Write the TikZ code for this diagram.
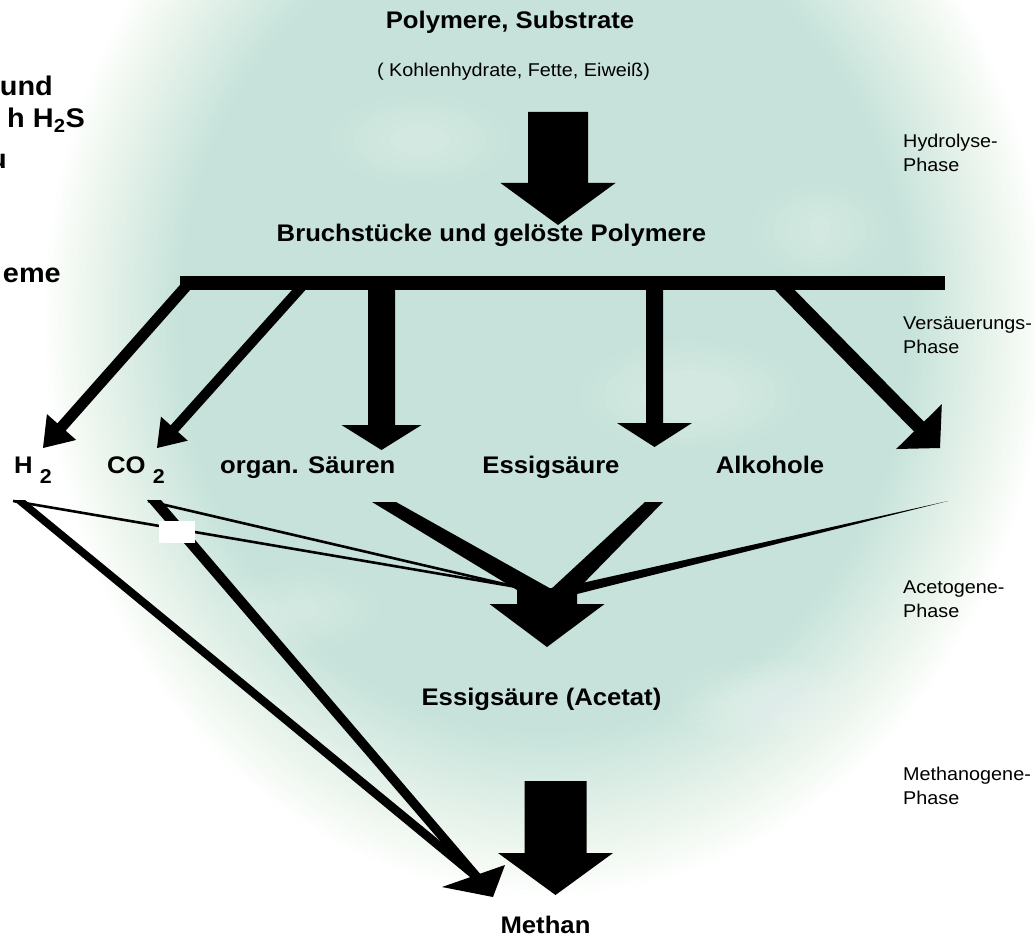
\documentclass[tikz,border=0pt]{standalone}
\usepackage{fontspec}
\setmainfont{Liberation Sans}[FakeStretch=1.07]
\usetikzlibrary{calc}
\definecolor{bgteal}{RGB}{198,226,218}
\newcommand\lowtwo{\raisebox{-10pt}{\fontsize{20}{20}\selectfont 2}}
\newcommand\blockarrow[5]{%
  \coordinate (tmpb) at ($(#2)!#5!(#1)$);
  \fill[arrowfill] ($(#1)!#3!90:(#2)$) -- ($(tmpb)!#3!-90:(#1)$) -- ($(tmpb)!#4!-90:(#1)$) -- (#2) -- ($(tmpb)!#4!90:(#1)$) -- ($(tmpb)!#3!90:(#1)$) -- ($(#1)!#3!-90:(#2)$) -- cycle;
}
\begin{document}
\begin{tikzpicture}[x=1pt,y=-1pt,
  lbl/.style={font=\bfseries\fontsize{24}{28}\selectfont, inner sep=0pt},
  sub/.style={font=\fontsize{18.5}{24}\selectfont, inner sep=0pt},
  phase/.style={font=\fontsize{18.5}{24}\selectfont, inner sep=0pt, align=left, anchor=north west},
  side/.style={font=\bfseries\fontsize{27}{32}\selectfont, inner sep=0pt, anchor=base east},
  arrowfill/.style={fill=black},
  thinline/.style={draw=black, line width=2.6pt},
]
\useasboundingbox (0,0) rectangle (1035,936);
\clip (0,0) rectangle (1035,936);
\fill[white] (0,0) rectangle (1035,936);
% soft teal vignette (linear ramp)
\foreach \k in {1,...,30} {
  \pgfmathsetmacro\rx{500-(\k-1)*4.8}
  \pgfmathsetmacro\ry{575-(\k-1)*5.8}
  \pgfmathsetmacro\al{1/(31-\k)}
  \fill[bgteal, fill opacity=\al] (545,320) ellipse [x radius=\rx, y radius=\ry];
}
% faint cloud highlights
\foreach \cx/\cy/\a/\b in {760/700/90/40, 690/395/110/55, 420/140/90/45, 300/610/80/40, 820/230/70/45} {
  \foreach \k in {0,...,5} {
    \fill[white, fill opacity=0.05] (\cx,\cy) ellipse [x radius={\a-\k*12}, y radius={\b-\k*6}];
  }
}

% texts
\node[lbl, anchor=base] (poly) at (510,29) {Polymere, Substrate};
\node[sub, anchor=base] (kohl) at (513.5,77) {( Kohlenhydrate, Fette, Eiweiß)};
\node[lbl, anchor=base] (bruch) at (491.5,241) {Bruchstücke und gelöste Polymere};
\node[lbl, anchor=base west] (h2) at (14,473) {H \lowtwo};
\node[lbl, anchor=base west] (co2) at (107,473) {CO \lowtwo};
\node[lbl, anchor=base west] (saeuren) at (220,473) {organ. Säuren};
\node[lbl, anchor=base] (essig) at (551,473) {Essigsäure};
\node[lbl, anchor=base] (alk) at (770,473) {Alkohole};
\node[lbl, anchor=base] (acetat) at (541.5,705) {Essigsäure (Acetat)};
\node[lbl, anchor=base] (methan) at (545.5,933) {Methan};

\node[phase] (ph1) at (903,133.5) {Hydrolyse-\\Phase};
\node[phase] (ph2) at (903,316.5) {Versäuerungs-\\Phase};
\node[phase] (ph3) at (903,580.5) {Acetogene-\\Phase};
\node[phase] (ph4) at (903,766.5) {Methanogene-\\Phase};

\node[side] (s1) at (53,96) {und};
\node[side] (s2) at (85,128) {h H\textsubscript{2}S};
\node[side] (s3) at (7,168) {u};
\node[side] (s4) at (61,282) {eme};

% coordinates
\coordinate (hyA) at (558,112); \coordinate (hyT) at (558,225);
\coordinate (h2A) at (189,283); \coordinate (h2T) at (43,448);
\coordinate (coA) at (305,283); \coordinate (coT) at (157,448);
\coordinate (saA) at (381.5,283); \coordinate (saT) at (381.5,450);
\coordinate (esA) at (654.5,283); \coordinate (esT) at (654.5,447);
\coordinate (alA) at (778,283); \coordinate (alT) at (940,448);
\coordinate (acA) at (547,588); \coordinate (acT) at (547,647);
\coordinate (meA) at (555.5,781); \coordinate (meT) at (555.5,895);
\coordinate (h2p) at (13,501); \coordinate (co2p) at (148,501);
\coordinate (acJ) at (517,587);

% hydrolysis arrow
\blockarrow{hyA}{hyT}{30pt}{57.5pt}{42pt}
% acidification arrows
\blockarrow{h2A}{h2T}{5.5pt}{19.5pt}{28pt}
\blockarrow{coA}{coT}{5pt}{18pt}{26pt}
\blockarrow{saA}{saT}{13.5pt}{40pt}{25pt}
\blockarrow{esA}{esT}{8.5pt}{37.5pt}{24pt}
\blockarrow{alA}{alT}{7pt}{32pt}{30pt}
\node[fill=black, minimum width=765pt, minimum height=14pt, inner sep=0pt, anchor=north west] (bar) at (180,276) {};

% acetogenic phase
\draw[thinline] (h2p) -- (acJ);
\draw[thinline] (co2p) -- (acJ);
\fill (372,502) -- (396,502) -- (553,590) -- (517,590) -- cycle;
\fill (645,502) -- (663,502) -- (577,590) -- (550,590) -- cycle;
\fill (948,501) -- (577,594) -- (573,585) -- cycle;
\blockarrow{acA}{acT}{30pt}{57.5pt}{43pt}

% methanogenic phase
\fill (13,500) -- (25,500) -- (479.8,873.5) -- (474.2,880.5) -- cycle;
\fill (147,500) -- (161,500) -- (480.4,874.1) -- (473.6,879.9) -- cycle;
\fill (442,887) -- (505,865) -- (493,897) -- cycle;
\blockarrow{meA}{meT}{31pt}{57.5pt}{42pt}
\fill[white] (159,521) rectangle (195,543);
\end{tikzpicture}
\end{document}
